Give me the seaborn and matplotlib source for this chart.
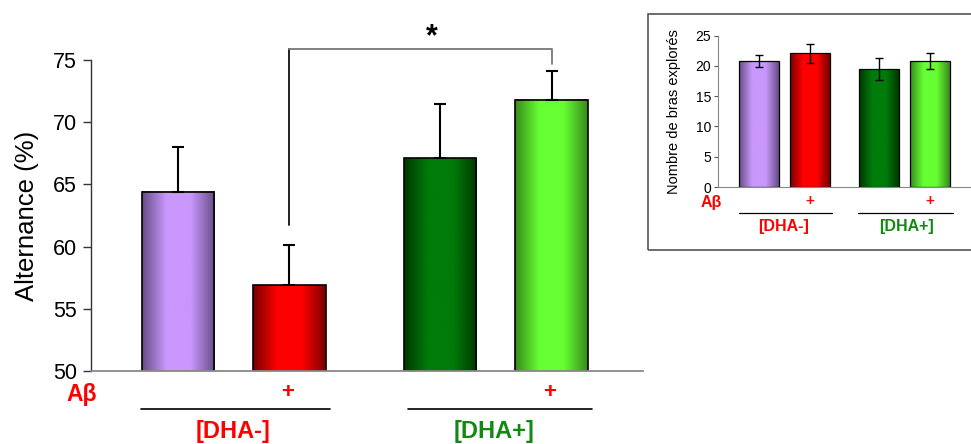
import numpy as np
import matplotlib
matplotlib.use("Agg")
import matplotlib.pyplot as plt
import matplotlib.transforms as mtransforms
from matplotlib.colors import LinearSegmentedColormap
from matplotlib.patches import Rectangle
import seaborn as sns

# data
groups = ["DHA- / Abeta-", "DHA- / Abeta+", "DHA+ / Abeta-", "DHA+ / Abeta+"]
abeta_marks = ["", "+", "", "+"]
alternance_mean = [64.4, 56.9, 67.1, 71.8]
alternance_sem = [3.6, 3.2, 4.4, 2.3]
arms_mean = [20.8, 22.1, 19.45, 20.8]
arms_sem = [1.05, 1.6, 1.8, 1.3]
main_ticks = [50, 55, 60, 65, 70, 75]
inset_ticks = [0, 5, 10, 15, 20, 25]

# layout / style
pos = [0, 1, 2.35, 3.35]
edge_cols = ["#654d88", "#780000", "#003800", "#388a1c"]
center_cols = ["#ca98fc", "#ff0000", "#007c0a", "#66ff33"]
dha_minus_col = "#ff0000"
dha_plus_col = "#128a12"

sns.set_style("white")
plt.rcParams["font.family"] = ["Liberation Sans", "DejaVu Sans"]
plt.rcParams["text.color"] = "black"
plt.rcParams["axes.labelcolor"] = "black"
plt.rcParams["ytick.color"] = "black"


def shade_bars(ax, ybottom):
    # horizontal gradient inside each bar (dark edges, light middle)
    grad = np.linspace(0, 1, 256).reshape(1, -1)
    for p, e, c in zip(ax.patches, edge_cols, center_cols):
        x, w = p.get_x(), p.get_width()
        top = p.get_y() + p.get_height()
        cmap = LinearSegmentedColormap.from_list("g", [e, c, c, e])
        ax.imshow(grad, extent=[x, x + w, ybottom, top], aspect="auto",
                  cmap=cmap, zorder=1.5, interpolation="bicubic")
        p.set_facecolor("none")
        p.set_zorder(2)


fig = plt.figure(figsize=(9.71, 4.44), dpi=100)

# ---------------- main chart ----------------
ax = fig.add_axes([0.0937, 0.1644, 0.5685, 0.7005])
sns.barplot(x=pos, y=alternance_mean, native_scale=True, width=0.65,
            errorbar=None, color="white", edgecolor="black", linewidth=1.2, ax=ax)
shade_bars(ax, 50)
ax.errorbar(pos, alternance_mean, yerr=[[0] * 4, alternance_sem], fmt="none",
            ecolor="black", elinewidth=1.5, capsize=4, capthick=1.5, zorder=3)
ax.set_xlim(-0.78, 4.17)
ax.set_ylim(50, 75)
ax.set_yticks(main_ticks)
ax.set_xticks([])
ax.tick_params(axis="y", left=True, length=6, width=1, color="#333333",
               labelsize=15.5, pad=4)
ax.set_ylabel("Alternance (%)", fontsize=18.5, labelpad=10)
for s in ["top", "right"]:
    ax.spines[s].set_visible(False)
ax.spines["left"].set_color("#333333")
ax.spines["bottom"].set_color("#888888")
ax.spines["left"].set_linewidth(1)
ax.spines["bottom"].set_linewidth(1.3)

# significance bracket
ax.plot([pos[1], pos[1]], [61.7, 75.9], color="#222222", lw=1.4, clip_on=False)
ax.plot([pos[1], pos[3], pos[3]], [75.9, 75.9, 74.7], color="#777777",
        lw=1.3, clip_on=False)
ax.text(2.275, 76.8, "*", ha="center", va="center", fontsize=22,
        fontweight="bold")

tr = mtransforms.blended_transform_factory(ax.transData, ax.transAxes)
ax.text(-0.86, -0.074, "A\u03b2", color="red", fontsize=16.5, fontweight="bold",
        ha="center", va="center", transform=tr)
for p, m in zip(pos, abeta_marks):
    if m:
        ax.text(p - 0.02, -0.07, m, color="red", fontsize=16, fontweight="bold",
                ha="center", va="center", transform=tr)
ax.plot([-0.33, 1.36], [-0.121, -0.121], color="black", lw=1.2,
        transform=tr, clip_on=False)
ax.plot([2.06, 3.71], [-0.121, -0.121], color="black", lw=1.2,
        transform=tr, clip_on=False)
ax.text(0.495, -0.193, "[DHA-]", color=dha_minus_col, fontsize=17,
        fontweight="bold", ha="center", va="center", transform=tr)
ax.text(2.836, -0.193, "[DHA+]", color=dha_plus_col, fontsize=17,
        fontweight="bold", ha="center", va="center", transform=tr)

# ---------------- inset ----------------
fig.patches.append(Rectangle((0.6674, 0.437), 0.34, 0.5315,
                             transform=fig.transFigure, fill=False,
                             edgecolor="#555555", lw=1.2, zorder=0))
ia = fig.add_axes([0.7394, 0.5788, 0.2600, 0.3408])
sns.barplot(x=pos, y=arms_mean, native_scale=True, width=0.78,
            errorbar=None, color="white", edgecolor="black", linewidth=0.9, ax=ia)
shade_bars(ia, 0)
ia.errorbar(pos, arms_mean, yerr=arms_sem, fmt="none", ecolor="black",
            elinewidth=1, capsize=3, capthick=1, zorder=3)
ia.set_xlim(-0.8, 4.14)
ia.set_ylim(0, 25)
ia.set_yticks(inset_ticks)
ia.set_xticks([])
ia.tick_params(axis="y", left=True, length=3, width=0.8, color="#555555",
               labelsize=10, pad=2)
ia.set_ylabel("Nombre de bras explorés", fontsize=10.5, labelpad=10)
for s in ["top", "right"]:
    ia.spines[s].set_visible(False)
ia.spines["left"].set_color("#888888")
ia.spines["bottom"].set_color("#888888")
ia.patch.set_alpha(0)

tri = mtransforms.blended_transform_factory(ia.transData, ia.transAxes)
ia.text(-0.93, -0.105, "A\u03b2", color="red", fontsize=11.5, fontweight="bold",
        ha="center", va="center", transform=tri)
for p, m in zip(pos, abeta_marks):
    if m:
        ia.text(p, -0.095, m, color="red", fontsize=11, fontweight="bold",
                ha="center", va="center", transform=tri)
ia.plot([-0.39, 1.43], [-0.174, -0.174], color="black", lw=0.9,
        transform=tri, clip_on=False)
ia.plot([1.95, 3.79], [-0.174, -0.174], color="black", lw=0.9,
        transform=tri, clip_on=False)
ia.text(0.48, -0.262, "[DHA-]", color=dha_minus_col, fontsize=11.5,
        fontweight="bold", ha="center", va="center", transform=tri)
ia.text(2.88, -0.262, "[DHA+]", color=dha_plus_col, fontsize=11.5,
        fontweight="bold", ha="center", va="center", transform=tri)

fig.savefig("out.png", dpi=100)
